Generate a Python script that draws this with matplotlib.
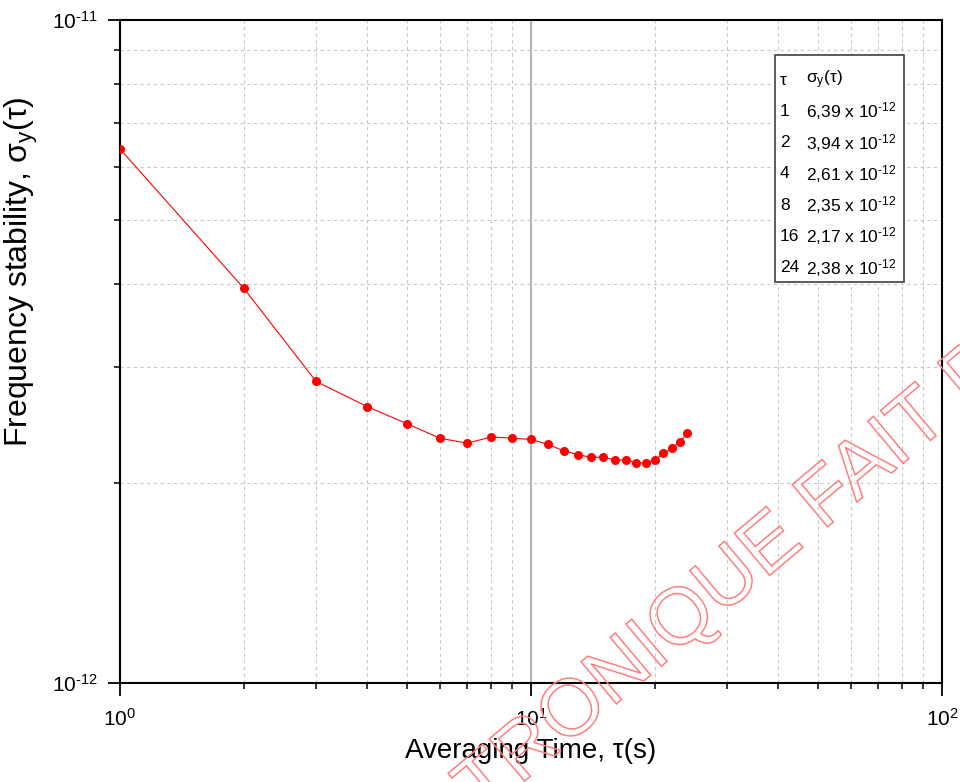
import math
import matplotlib
matplotlib.use("Agg")
import matplotlib.pyplot as plt
import matplotlib.ticker as mticker
from matplotlib.patches import Rectangle, PathPatch
from matplotlib.textpath import TextPath
from matplotlib.font_manager import FontProperties
from matplotlib.transforms import Affine2D

plt.rcParams['font.family'] = ['Liberation Sans', 'DejaVu Sans']
plt.rcParams['mathtext.fontset'] = 'custom'
plt.rcParams['mathtext.rm'] = 'Liberation Sans'
plt.rcParams['mathtext.it'] = 'Liberation Sans:italic'
plt.rcParams['mathtext.bf'] = 'Liberation Sans:bold'

# Allan deviation vs averaging time
tau = [1, 2, 3, 4, 5, 6, 7, 8, 9, 10, 11, 12, 13, 14, 15, 16, 17, 18, 19, 20,
       21, 22, 23, 24]
sigma = [6.39, 3.94, 2.85, 2.61, 2.46, 2.34, 2.30, 2.35, 2.34, 2.33, 2.29,
         2.24, 2.21, 2.19, 2.19, 2.17, 2.17, 2.15, 2.145, 2.17, 2.22, 2.26,
         2.31, 2.38]
sigma = [s * 1e-12 for s in sigma]

# summary table in the upper right corner
table_tau = [1, 2, 4, 8, 16, 24]
table_sigma = [6.39, 3.94, 2.61, 2.35, 2.17, 2.38]


def pow10_label(v, pos):
    # short hyphen like the original instead of the math minus
    return r'$10^{\text{%d}}$' % round(math.log10(v))


fig = plt.figure(figsize=(9.6, 7.82), dpi=100)
ax = fig.add_axes([0.125, 0.1266, 0.85625, 0.8478])

ax.plot(tau, sigma, color='#ff0000', linewidth=0.8, marker='o',
        markersize=6.5, markeredgewidth=0, zorder=3)

ax.set_xscale('log')
ax.set_yscale('log')
ax.set_xlim(1, 100)
ax.set_ylim(1e-12, 1e-11)

ax.xaxis.set_major_locator(mticker.LogLocator(base=10))
ax.xaxis.set_minor_locator(mticker.LogLocator(base=10, subs=range(2, 10)))
ax.yaxis.set_major_locator(mticker.LogLocator(base=10))
ax.yaxis.set_minor_locator(mticker.LogLocator(base=10, subs=range(2, 10)))
ax.xaxis.set_major_formatter(mticker.FuncFormatter(pow10_label))
ax.yaxis.set_major_formatter(mticker.FuncFormatter(pow10_label))
ax.xaxis.set_minor_formatter(mticker.NullFormatter())
ax.yaxis.set_minor_formatter(mticker.NullFormatter())

# grid: dashed minor lines, solid grey line at the inner decade
ax.grid(which='minor', linestyle=(0, (3, 3)), color='#c8c8c8', linewidth=0.8)
ax.axvline(10, color='#b4b4b4', linewidth=1.5, zorder=1)

ax.tick_params(which='major', direction='out', length=9, width=1.3,
               labelsize=15)
ax.tick_params(which='minor', direction='out', length=4.5, width=1.1)
ax.tick_params(axis='x', top=False, which='both', pad=9)
ax.tick_params(axis='y', right=False, which='both', pad=7)
for side in ['left', 'bottom', 'right', 'top']:
    ax.spines[side].set_linewidth(1.5)

ax.set_xlabel('Averaging Time, τ(s)', fontsize=20, labelpad=6)
ax.set_ylabel(r'Frequency stability, σ$_\mathregular{y}$(τ)', fontsize=23)
ax.yaxis.set_label_coords(-0.097, 0.62)

# table box
x0, y0 = 0.797, 0.6048
ax.add_patch(Rectangle((x0, y0), 0.157, 0.342, transform=ax.transAxes,
                       facecolor='white', edgecolor='#404040', linewidth=1.2,
                       zorder=4))
row_h = 31.3 / 663
top_y = 1 - (80 - 20) / 663
col1 = (780 - 120) / 822
col2 = (806 - 120) / 822
ax.text(col1, top_y, 'τ', transform=ax.transAxes, fontsize=12.5,
        va='center', ha='left', zorder=5)
ax.text(col2, top_y, r'σ$_\mathregular{y}$(τ)', transform=ax.transAxes,
        fontsize=12.5, va='center', ha='left', zorder=5)
for i, (t, s) in enumerate(zip(table_tau, table_sigma)):
    yy = top_y - (i + 1) * row_h
    ax.text(col1, yy, str(t), transform=ax.transAxes, fontsize=12.5,
            va='center', ha='left', zorder=5)
    lab = ('%.2f' % s).replace('.', ',') + r' x 10$^{\text{-12}}$'
    ax.text(col2, yy, lab, transform=ax.transAxes, fontsize=12.5,
            va='center', ha='left', zorder=5)

# watermark (outlined letters, mostly outside the picture)
wm = TextPath((0, 0), 'ELECTRONIQUE FAIT PAR', size=80,
              prop=FontProperties(family='Liberation Sans'))
wm_tr = Affine2D().rotate_deg(40).translate(322, -169)
fig.add_artist(PathPatch(wm, transform=wm_tr, facecolor='none',
                         edgecolor='#ff7f7f', linewidth=1.1, zorder=10))

fig.savefig('out.png', dpi=100)
